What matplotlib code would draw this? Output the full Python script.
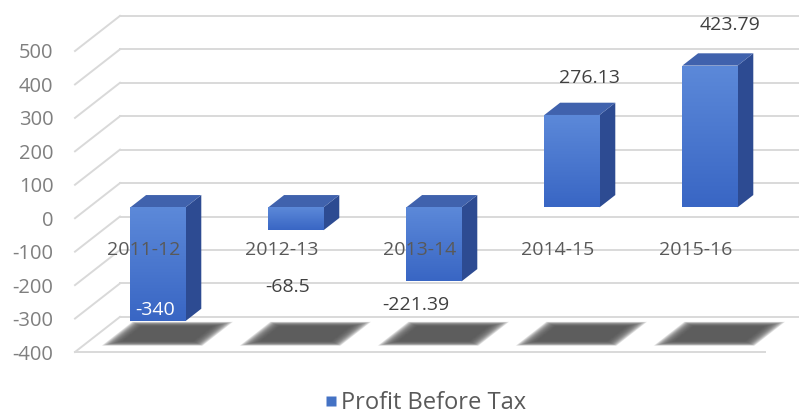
import matplotlib

matplotlib.use("Agg")
import matplotlib.pyplot as plt
import numpy as np
from matplotlib.lines import Line2D
from matplotlib.patches import Polygon

CATEGORIES = ["2011-12", "2012-13", "2013-14", "2014-15", "2015-16"]
PROFIT = [-340, -68.5, -221.39, 276.13, 423.79]
VALUE_LABELS = ["-340", "-68.5", "-221.39", "276.13", "423.79"]
Y_TICKS = [-400, -300, -200, -100, 0, 100, 200, 300, 400, 500]
SERIES_NAME = "Profit Before Tax"

# fake 3d: how far the back wall sits from the front plane (data units)
DEPTH_X = 0.326
DEPTH_Y = 105
BAR_HALF = 0.2
F_FRONT = 0.31
F_BACK = 0.66

# label nudges (x in categories, y in value units)
LABEL_NUDGE = [(0.08, 65), (0.04, -138), (-0.03, -39), (0.23, 143), (0.25, 153)]
LABEL_COLORS = ["white", "#404040", "#404040", "#404040", "#404040"]

FONT = ["Open Sans", "DejaVu Sans"]
GRID = "#d9d9d9"
FRONT_TOP = np.array([0x5c, 0x89, 0xd9]) / 255
FRONT_BOT = np.array([0x39, 0x66, 0xc4]) / 255
TOP_COLOR = "#4062ad"
SIDE_COLOR = "#2d4b92"


def draw_walls(ax):
    lo = Y_TICKS[0]
    x0, x1 = -0.5, len(CATEGORIES) - 0.5
    for v in Y_TICKS:
        # back wall line
        ax.plot([x0 + DEPTH_X, x1 + DEPTH_X + 0.1], [v + DEPTH_Y, v + DEPTH_Y],
                color=GRID, lw=1.4, clip_on=False, zorder=1)
        # left side wall line
        ax.plot([x0, x0 + DEPTH_X], [v, v + DEPTH_Y], color=GRID, lw=1.4,
                clip_on=False, zorder=1)
    ax.plot([x0, x1], [lo, lo], color=GRID, lw=1.4, clip_on=False, zorder=1)


def draw_shadow(ax, c):
    # soft floor shadow: stacked translucent parallelograms
    floor = Y_TICKS[0]
    for k in np.linspace(0.075, -0.035, 18):
        d0, d1 = 0.27 - k * 1.2, 0.77 + k * 1.2
        hw = 0.29 + k
        pts = [
            (c - hw + d0 * DEPTH_X, floor + d0 * DEPTH_Y),
            (c + hw + d0 * DEPTH_X, floor + d0 * DEPTH_Y),
            (c + hw + d1 * DEPTH_X, floor + d1 * DEPTH_Y),
            (c - hw + d1 * DEPTH_X, floor + d1 * DEPTH_Y),
        ]
        ax.add_patch(Polygon(pts, closed=True, facecolor="#555555", edgecolor="none",
                             alpha=0.14, clip_on=False, zorder=2))


def draw_bar(ax, c, value):
    top, bottom = max(0, value), min(0, value)
    fx, fy = F_FRONT * DEPTH_X, F_FRONT * DEPTH_Y
    bx, by = F_BACK * DEPTH_X, F_BACK * DEPTH_Y
    left, right = c - BAR_HALF, c + BAR_HALF

    side = [(right + fx, bottom + fy), (right + bx, bottom + by),
            (right + bx, top + by), (right + fx, top + fy)]
    ax.add_patch(Polygon(side, closed=True, facecolor=SIDE_COLOR, edgecolor="none",
                         clip_on=False, zorder=3))
    lid = [(left + fx, top + fy), (right + fx, top + fy),
           (right + bx, top + by), (left + bx, top + by)]
    ax.add_patch(Polygon(lid, closed=True, facecolor=TOP_COLOR, edgecolor="none",
                         clip_on=False, zorder=3))

    front = Polygon([(left + fx, bottom + fy), (right + fx, bottom + fy),
                     (right + fx, top + fy), (left + fx, top + fy)],
                    closed=True, facecolor="none", edgecolor="none", clip_on=False)
    ax.add_patch(front)
    grad = np.linspace(0, 1, 64)[:, None, None]
    img = FRONT_TOP * (1 - grad) + FRONT_BOT * grad
    im = ax.imshow(img, extent=(left + fx, right + fx, bottom + fy, top + fy),
                   aspect="auto", zorder=3.5, interpolation="bilinear", origin="upper")
    im.set_clip_path(front)


fig = plt.figure(figsize=(7.99, 4.16), dpi=100)
ax = fig.add_axes([75 / 799, 64 / 416, 690 / 799, 301 / 416])

draw_walls(ax)
for i, v in enumerate(PROFIT):
    draw_shadow(ax, i)
    draw_bar(ax, i, v)

for i, name in enumerate(CATEGORIES):
    ax.text(i, -96, name, ha="center", va="center", fontsize=14, color="#595959",
            family=FONT, zorder=5)

for i, (v, lab) in enumerate(zip(PROFIT, VALUE_LABELS)):
    dx, dy = LABEL_NUDGE[i]
    ax.text(i + dx, v + dy, lab, ha="center", va="center", fontsize=14,
            color=LABEL_COLORS[i], family=FONT, zorder=5)

ax.set_xlim(-0.5, len(CATEGORIES) - 0.5)
ax.set_ylim(Y_TICKS[0], Y_TICKS[-1])
ax.set_yticks(Y_TICKS)
ax.set_yticklabels([str(t) for t in Y_TICKS], family=FONT, fontsize=14.5, color="#7f7f7f")
ax.set_xticks([])
ax.tick_params(axis="y", length=0, pad=15.5)
for s in ax.spines.values():
    s.set_visible(False)
ax.set_facecolor("none")

handle = Line2D([], [], marker="s", linestyle="none", markersize=7.5,
                markerfacecolor="#4472c4", markeredgecolor="none")
fig.legend([handle], [SERIES_NAME], loc="center", bbox_to_anchor=(424 / 799, 1 - 403 / 416),
           frameon=False, handletextpad=0.0, handlelength=0.8,
           prop={"family": FONT, "size": 17}, labelcolor="#595959")

fig.savefig("out.png", dpi=100)
